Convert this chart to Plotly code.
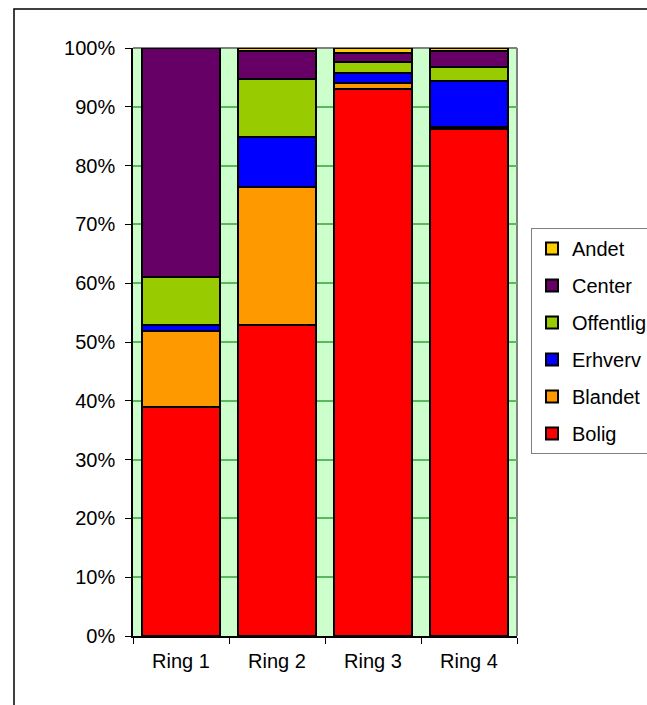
import plotly.graph_objects as go

# Land-use shares per ring (fraction of total)
rings = ["Ring 1", "Ring 2", "Ring 3", "Ring 4"]
bolig = [0.390, 0.529, 0.930, 0.863]
blandet = [0.129, 0.235, 0.010, 0.003]
erhverv = [0.010, 0.085, 0.017, 0.078]
offentlig = [0.082, 0.098, 0.020, 0.023]
center = [0.389, 0.048, 0.015, 0.028]
andet = [0.000, 0.005, 0.008, 0.005]

series = [
    ("Bolig", bolig, "#FF0000"),
    ("Blandet", blandet, "#FF9900"),
    ("Erhverv", erhverv, "#0000FF"),
    ("Offentlig", offentlig, "#99CC00"),
    ("Center", center, "#660066"),
    ("Andet", andet, "#FFCC00"),
]

FONT = "Liberation Sans, Arial, sans-serif"
FS = 20

fig = go.Figure()
for i, (name, vals, color) in enumerate(series):
    fig.add_trace(go.Bar(
        name=name, x=rings, y=vals, legendgroup=name,
        legendrank=len(series) - i,
        marker=dict(color=color, line=dict(color="#000000", width=2)),
    ))

W, H = 647, 705
L, R, T, B = 133, 130, 48, 69
pw, ph = W - L - R, H - T - B

fig.update_layout(
    width=W, height=H, autosize=False,
    margin=dict(l=L, r=R, t=T, b=B, pad=0, autoexpand=False),
    barmode="stack", bargap=0.18,
    paper_bgcolor="#FFFFFF", plot_bgcolor="#CCFFCC",
    font=dict(family=FONT, size=FS, color="#000000"),
    showlegend=True,
    legend=dict(
        traceorder="grouped", tracegroupgap=8,
        xref="container", yref="container",
        x=531 / W, xanchor="left",
        y=1 - 228 / H, yanchor="top",
        bgcolor="#FFFFFF", bordercolor="#808080", borderwidth=1,
        font=dict(family=FONT, size=FS, color="#000000"),
        itemwidth=30,
    ),
    xaxis=dict(
        type="category", tickson="boundaries", ticks="outside", ticklen=6,
        tickcolor="#000000", tickwidth=1, showline=True, linecolor="#000000",
        linewidth=1.5, showgrid=False, fixedrange=True,
        ticklabelstandoff=6,
        tickfont=dict(family=FONT, size=FS),
    ),
    yaxis=dict(
        range=[0, 1], dtick=0.1, tickformat=".0%", ticks="outside", ticklen=6,
        tickcolor="#000000", showline=True, linecolor="#000000", linewidth=1.5,
        showgrid=True, gridcolor="#5CB85C", gridwidth=1.5, zeroline=False,
        fixedrange=True, ticklabelstandoff=6,
        tickfont=dict(family=FONT, size=FS),
    ),
    shapes=[
        # plot-area frame (top and right edges)
        dict(type="line", xref="paper", yref="paper", x0=0, x1=1, y0=1, y1=1,
             line=dict(color="#808080", width=2), layer="below"),
        dict(type="line", xref="paper", yref="paper", x0=1, x1=1, y0=0, y1=1,
             line=dict(color="#808080", width=2), layer="below"),
        # outer chart border
        dict(type="rect", xref="paper", yref="paper",
             x0=(14 - L) / pw, x1=(W + 40 - L) / pw,
             y0=(H - B - (H + 40)) / ph, y1=(H - B - 9) / ph,
             line=dict(color="#000000", width=1.5), fillcolor="rgba(0,0,0,0)"),
    ],
)

fig.write_html(
    "out.html",
    config={"responsive": False, "displayModeBar": False},
    post_script="document.body.style.margin='0';document.body.style.overflow='hidden';",
)
